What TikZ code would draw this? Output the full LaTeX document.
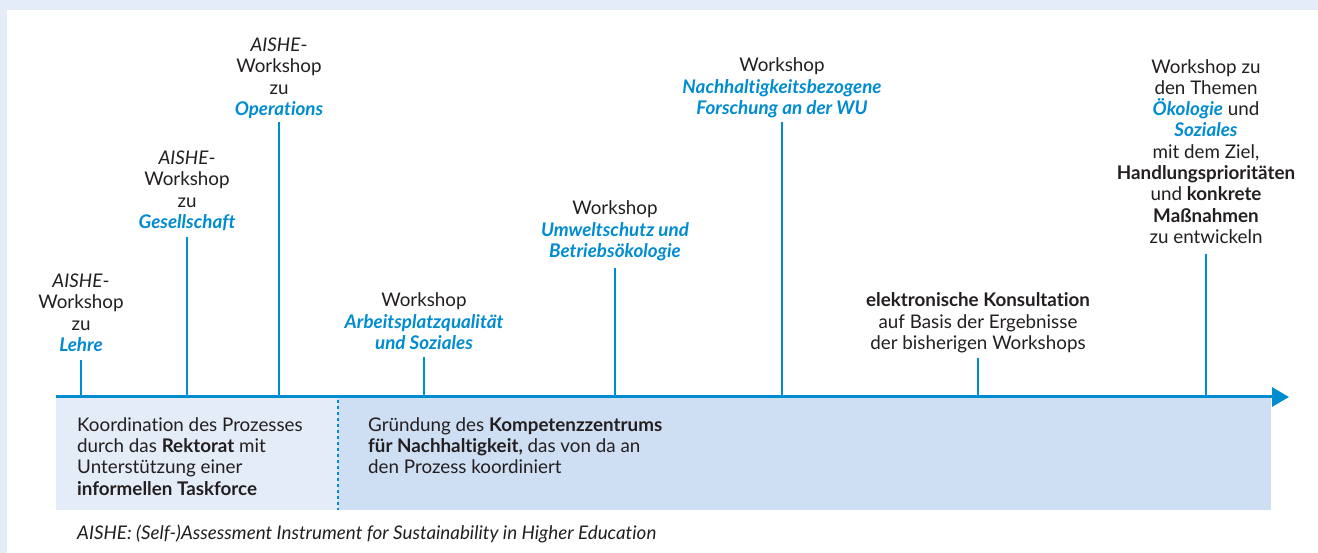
\documentclass[tikz,border=0pt]{standalone}
\usepackage{fontspec}
\setmainfont{Lato}[Ligatures=NoCommon]
\usetikzlibrary{arrows.meta}
\definecolor{wublue}{RGB}{0,140,208}
\definecolor{boxlight}{RGB}{228,236,247}
\definecolor{boxdark}{RGB}{207,223,243}
\definecolor{txt}{RGB}{35,31,32}
\newcommand{\hl}[1]{{\color{wublue}\bfseries\itshape #1}}
\begin{document}
\begin{tikzpicture}[x=1pt,y=-1pt,
  lbl/.style={align=center, anchor=south, inner sep=0pt, font=\fontsize{18.8}{21.3}\selectfont, text=txt},
  boxtxt/.style={align=left, anchor=north west, inner sep=0pt, font=\fontsize{18.8}{21.3}\selectfont, text=txt},
  tickline/.style={draw=wublue, line width=2.5pt}]
\fill[boxlight] (0,0) rectangle (1318,553);
\fill[white] (7,10) rectangle (1318,553);
\useasboundingbox (0,0) rectangle (1318,553);
% boxes
\fill[boxlight] (56,398) rectangle (338,510);
\fill[boxdark] (338,398) rectangle (1271,510);
\draw[wublue, line width=2.5pt, dash pattern=on 3pt off 3pt] (338,400) -- (338,510);
% axis
\coordinate (start) at (56,397);
\coordinate (end) at (1289,397);
\draw[wublue, line width=3pt, -{Triangle[length=17pt,width=19pt]}] (start) -- (end);
% ticks
\foreach \n/\x/\t in {1/81/360, 2/187/237, 3/279/122, 4/424/357, 5/615/268, 6/782/122, 7/978/358, 8/1206/254}{
  \coordinate (b\n) at (\x,397);
  \coordinate (t\n) at (\x,\t);
  \draw[tickline] (b\n) -- (t\n);
}
\node[lbl] (l1) at ([yshift=2pt]t1) {\textit{AISHE}-\\Workshop\\zu\\\hl{Lehre}\strut};
\node[lbl] (l2) at ([yshift=2pt]t2) {\textit{AISHE}-\\Workshop\\zu\\\hl{Gesellschaft}\strut};
\node[lbl] (l3) at ([yshift=0pt]t3) {\textit{AISHE}-\\Workshop\\zu\\\hl{Operations}\strut};
\node[lbl] (l4) at ([yshift=1pt]t4) {Workshop\\\hl{Arbeitsplatzqualität}\\\hl{und Soziales}\strut};
\node[lbl] (l5) at ([yshift=4pt]t5) {Workshop\\\hl{Umweltschutz und}\\\hl{Betriebsökologie}\strut};
\node[lbl] (l6) at ([yshift=1pt]t6) {Workshop\\\hl{Nachhaltigkeitsbezogene}\\\hl{Forschung an der WU}\strut};
\node[lbl] (l7) at ([yshift=2pt]t7) {\textbf{elektronische Konsultation}\\auf Basis der Ergebnisse\\der bisherigen Workshops\strut};
\node[lbl] (l8) at ([yshift=4pt]t8) {Workshop zu\\den Themen\\\hl{Ökologie} und\\\hl{Soziales}\\mit dem Ziel,\\\textbf{Handlungsprioritäten}\\und \textbf{konkrete}\\\textbf{Maßnahmen}\\zu entwickeln\strut};
% box texts
\node[boxtxt] (k1) at (77,416) {\strut Koordination des Prozesses\\durch das \textbf{Rektorat} mit\\Unterstützung einer\\\textbf{informellen Taskforce}};
\node[boxtxt] (k2) at (368,416) {\strut Gründung des \textbf{Kompetenzzentrums}\\\textbf{für Nachhaltigkeit,} das von da an\\den Prozess koordiniert};
% footnote
\node[anchor=base west, inner sep=0pt, font=\fontsize{18.8}{21.3}\selectfont\itshape, text=txt] (fn) at (77,539) {AISHE: (Self-)Assessment Instrument for Sustainability in Higher Education};
\end{tikzpicture}
\end{document}
